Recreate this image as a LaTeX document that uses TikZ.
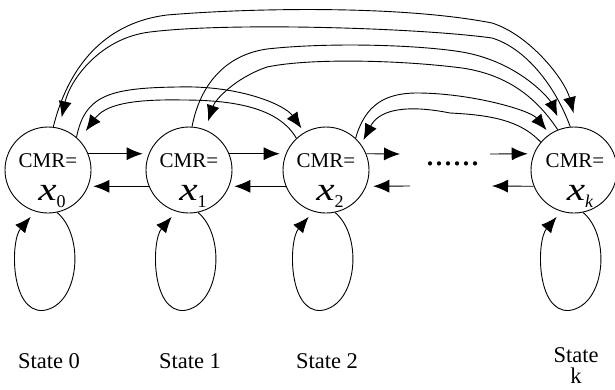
\documentclass[tikz,border=0pt]{standalone}
\usepackage{fontspec}
\setmainfont{Liberation Serif}
\usetikzlibrary{arrows.meta}
\begin{document}
\begin{tikzpicture}[x=1pt,y=-1pt,
  state/.style={circle,draw,line width=0.9pt,minimum size=86pt,inner sep=0pt},
  arr/.style={line width=0.9pt,-{Latex[length=16pt,width=13pt]}},
  cmr/.style={anchor=base,inner sep=0pt,font=\fontsize{21}{21}\selectfont},
  var/.style={anchor=base,inner sep=0pt,font=\fontsize{33}{33}\selectfont\itshape},
  lbl/.style={anchor=base,inner sep=0pt,font=\fontsize{22.5}{21}\selectfont}]
\useasboundingbox (0,0) rectangle (615,389);
% states
\node[state] (c0) at (48,170) {};
\node[state] (c1) at (189,170) {};
\node[state] (c2) at (326,170) {};
\node[state] (ck) at (574,170) {};
% texts inside
\node[cmr] (m0) at (48,167) {CMR=};
\node[cmr] (m1) at (189,167) {CMR=};
\node[cmr] (m2) at (326,167) {CMR=};
\node[cmr] (mk) at (575,167) {CMR=};
\node[var] (v0) at (52,200) {\scalebox{1.25}[1]{x}\raisebox{-7pt}{\fontsize{18}{18}\selectfont\upshape 0}};
\node[var] (v1) at (193,200) {\scalebox{1.25}[1]{x}\raisebox{-7pt}{\fontsize{18}{18}\selectfont\upshape 1}};
\node[var] (v2) at (330,200) {\scalebox{1.25}[1]{x}\raisebox{-7pt}{\fontsize{18}{18}\selectfont\upshape 2}};
\node[var] (vk) at (580,200) {\scalebox{1.25}[1]{x}\raisebox{-7pt}{\fontsize{18}{18}\selectfont k}};
% labels
\node[lbl] (s0) at (49,368) {State 0};
\node[lbl] (s1) at (190,368) {State 1};
\node[lbl] (s2) at (327,368) {State 2};
\node[lbl, anchor=north, align=center] (sk) at (576,347) {State\\k};
% dots and free ends
\node[anchor=base,inner sep=0pt,font=\fontsize{36}{36}\selectfont] (dots) at (452.5,165) {......};
\coordinate (e1) at (400,154);
\coordinate (e2) at (410,186);
\coordinate (e3) at (490,154);
\coordinate (e4) at (492,186);
% horizontal arrows
\draw[arr, shorten >=6pt] (c0.22) -- (c1.158);
\draw[arr, shorten >=5pt] (c1.202) -- (c0.-22);
\draw[arr, shorten >=6pt] (c1.22) -- (c2.158);
\draw[arr, shorten >=5pt] (c2.202) -- (c1.-22);
\draw[arr] (c2.22) -- (e1);
\draw[arr, shorten >=7pt] (e2) -- (c2.-22);
\draw[arr, shorten >=6pt] (e3) -- (ck.158);
\draw[arr] (ck.202) -- (e4);
% long curves
\draw[arr, shorten >=14pt] (c0.83) .. controls (70,60) and (110,22) .. (167,15)
  .. controls (250,8) and (400,5) .. (492,23) .. controls (530,35) and (565,80) .. (ck.86);
\draw[arr, shorten >=11pt] (ck.95) .. controls (555,85) and (525,48) .. (492,38)
  .. controls (420,28) and (230,22) .. (150,32) .. controls (100,38) and (70,80) .. (c0.75);
\draw[arr, shorten >=5pt] (c0.49) .. controls (85,95) and (110,88) .. (177,87)
  .. controls (240,85) and (285,105) .. (c2.120);
\draw[arr, shorten >=11pt] (c2.133) .. controls (280,110) and (240,100) .. (183,100)
  .. controls (130,99) and (105,105) .. (c0.44);
\draw[arr, shorten >=13pt] (c1.86) .. controls (200,85) and (225,55) .. (267,49)
  .. controls (330,42) and (420,45) .. (462,52) .. controls (520,62) and (550,100) .. (ck.105);
\draw[arr, shorten >=9pt] (ck.112) .. controls (538,100) and (510,75) .. (462,68)
  .. controls (400,60) and (310,58) .. (267,67) .. controls (235,78) and (215,100) .. (c1.68);
\draw[arr, shorten >=5pt] (c2.47) .. controls (365,105) and (385,93) .. (417,93)
  .. controls (470,93) and (530,110) .. (ck.124);
\draw[arr, shorten >=5pt] (ck.140) .. controls (520,120) and (490,115) .. (450,113)
  .. controls (410,105) and (380,108) .. (c2.36);
% self loops
\foreach \n in {c0,c1,c2,ck} {
  \draw[arr, shorten >=7pt] (\n.-78) .. controls +(28,23) and +(37,-5) .. ++(-14,98)
    .. controls +(-33,2) and +(-25,29) .. (\n.253);
}
\end{tikzpicture}
\end{document}
